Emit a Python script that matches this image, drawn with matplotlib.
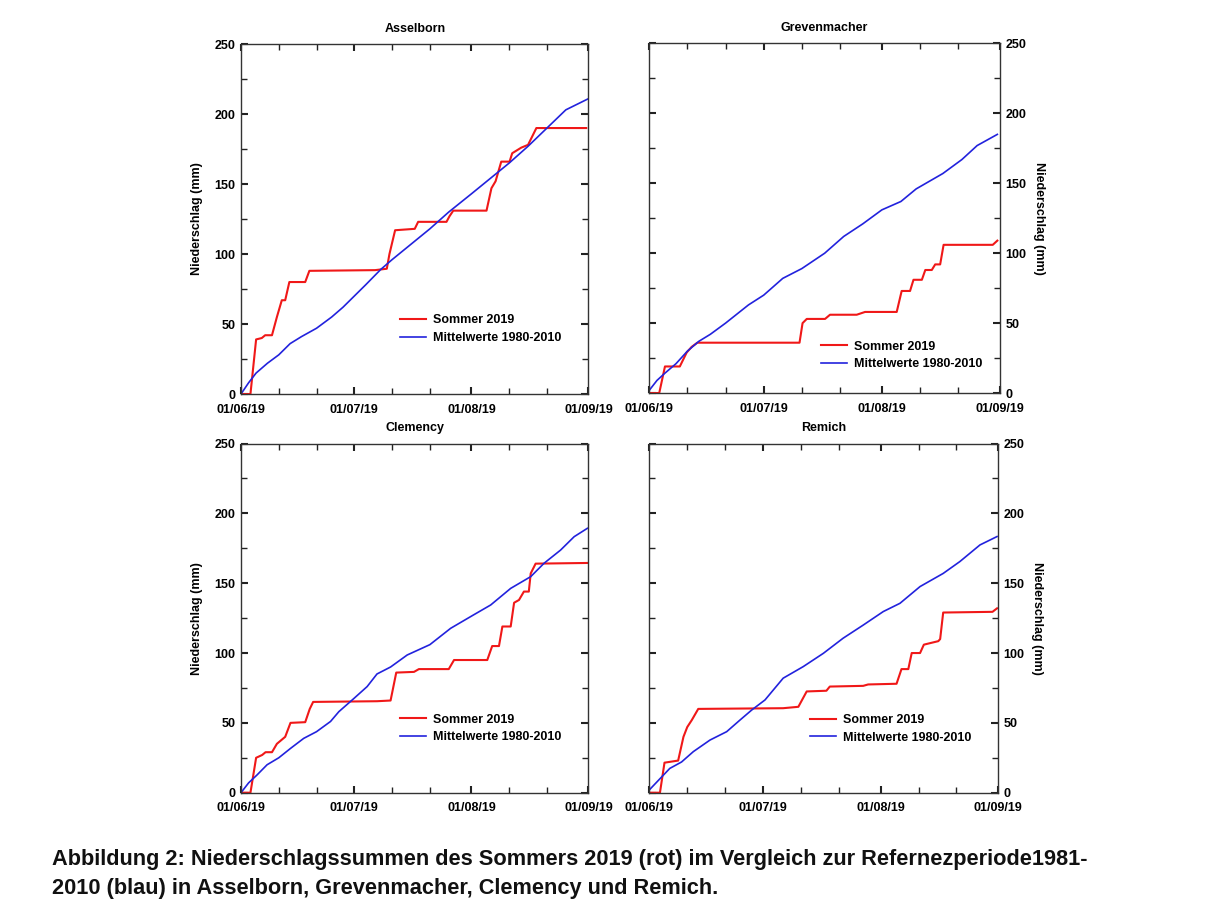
import numpy as np
import matplotlib
matplotlib.use("Agg")
import matplotlib.pyplot as plt
import matplotlib.dates as mdates
import pandas as pd

plt.rcParams['font.family'] = ['Liberation Sans', 'DejaVu Sans']
plt.rcParams['font.weight'] = 'bold'

# days since 01/06/2019 and cumulative precipitation (mm)
ass_red_days = [0, 2.5, 4.0, 5.5, 6.4, 8.2, 9.5, 10.8, 11.7, 12.8, 17.0, 18.1, 35.5, 38.6, 39.3, 40.8,
                46.0, 46.9, 54.4, 55.2, 56.2, 65.0, 66.3, 67.4, 68.9, 71.1, 71.8, 74.2, 76.0, 78.2, 91.4]
ass_red_vals = [0, 0, 39, 40, 42, 42, 55, 67, 67, 80, 80, 88, 88.5, 89.5, 100, 117,
                118, 123, 123, 127, 131, 131, 147, 152, 166, 166, 172, 176, 178, 190, 190]
ass_blue_days = [0, 2, 4, 7, 10, 13, 16, 20, 24, 27, 30, 33, 37, 40, 45, 50, 55, 61, 66, 71, 76, 81, 86, 89, 92]
ass_blue_vals = [0, 8, 15, 22, 28, 36, 41, 47, 55, 62, 70, 78, 89, 96, 107, 118, 130, 143, 154, 165, 177, 190, 203, 207, 211]

gre_red_days = [0, 2.6, 4.1, 8.0, 9.8, 11.1, 12.6, 39.4, 40.2, 41.3, 46.1, 47.4, 54.4, 56.6, 64.9, 66.2,
                68.4, 69.3, 71.5, 72.4, 74.1, 75.0, 76.3, 77.2, 90.1, 91.3]
gre_red_vals = [0, 0, 19, 19, 29, 33, 36, 36, 50, 53, 53, 56, 56, 58, 58, 73,
                73, 81, 81, 88, 88, 92, 92, 106, 106, 109]
gre_blue_days = [0, 2, 4, 7, 10, 13, 16, 20, 26, 30, 35, 40, 46, 51, 56, 61, 66, 70, 77, 82, 86, 91.3]
gre_blue_vals = [2, 9, 14, 21, 30, 37, 42, 50, 63, 70, 82, 89, 100, 112, 121, 131, 137, 146, 157, 167, 177, 185]

cle_red_days = [0, 2.5, 4.0, 5.6, 6.5, 8.2, 9.5, 11.7, 13.1, 17.0, 18.2, 19.1, 36.0, 39.6, 41.1, 45.8,
                47.1, 55.0, 56.4, 65.2, 66.5, 68.3, 69.2, 71.4, 72.3, 73.6, 74.9, 76.2, 76.7, 78.0, 92]
cle_red_vals = [0, 0, 25, 27, 29, 29, 35, 40, 50, 50.5, 60, 65, 65.5, 66, 86, 86.5,
                88.5, 88.5, 95, 95, 105, 105, 119, 119, 136, 138, 144, 144, 157, 164, 164.5]
cle_blue_days = [0, 2, 4.2, 6.9, 10, 13.1, 16.6, 20, 23.7, 25.9, 29.9, 33.4, 36, 39.6, 44, 50, 55.5,
                 61.5, 66.1, 71.4, 76.7, 80.2, 84.6, 88.2, 91.7]
cle_blue_vals = [0, 7, 12.6, 20, 25, 31.7, 38.9, 43.7, 51, 58, 67.5, 76, 85, 90, 98.6, 106, 117.7,
                 127.2, 134.4, 146.3, 154.7, 164.2, 173.7, 183.3, 189.3]

rem_red_days = [0, 2.8, 4.0, 7.6, 9.0, 10.0, 11.2, 12.9, 35.3, 39.3, 41.5, 46.7, 47.6, 56.4, 57.7, 65.2,
                66.5, 68.3, 69.2, 71.4, 72.4, 76.2, 76.7, 77.5, 90.5, 91.7]
rem_red_vals = [0, 0, 21.5, 23, 40, 47, 52, 60, 60.5, 61.5, 72.5, 73, 76, 76.5, 77.5, 78,
                88.5, 88.5, 100, 100, 106, 108.5, 110, 129, 129.5, 132]
rem_blue_days = [0, 2.8, 5.4, 8.5, 11.6, 16, 20.4, 23.9, 27, 30.5, 35.3, 40.6, 45.9, 51.1, 56.4, 61.7,
                 66.1, 71.4, 77.5, 81.9, 87.2, 91.7]
rem_blue_vals = [2, 10, 17.4, 22, 29.4, 37.7, 43.7, 52, 59.2, 66.4, 82, 90.3, 99.8, 110.6, 120, 129.7,
                 135.6, 147.6, 157, 165.5, 177.4, 183.4]

stations = ['Asselborn', 'Grevenmacher', 'Clemency', 'Remich']
labels = ['Sommer 2019', 'Mittelwerte 1980-2010']
caption = ("Abbildung 2: Niederschlagssummen des Sommers 2019 (rot) im Vergleich zur Refernezperiode1981-\n"
           "2010 (blau) in Asselborn, Grevenmacher, Clemency und Remich.")

start = pd.Timestamp('2019-06-01')
end = pd.Timestamp('2019-09-01')

def to_dates(days):
    return start + pd.to_timedelta(np.array(days), unit='D')

fig = plt.figure(figsize=(12.24, 9.10), dpi=100)

# axes boxes [left, bottom, width, height] in figure fraction
boxes = [[0.1969, 0.5670, 0.2839, 0.3846],
         [0.5305, 0.5681, 0.2865, 0.3841],
         [0.1969, 0.1289, 0.2839, 0.3837],
         [0.5305, 0.1289, 0.2850, 0.3837]]
legend_pos = [(0.458, 0.185), (0.49, 0.107), (0.458, 0.184), (0.461, 0.183)]

data = [(ass_red_days, ass_red_vals, ass_blue_days, ass_blue_vals),
        (gre_red_days, gre_red_vals, gre_blue_days, gre_blue_vals),
        (cle_red_days, cle_red_vals, cle_blue_days, cle_blue_vals),
        (rem_red_days, rem_red_vals, rem_blue_days, rem_blue_vals)]

for i in range(4):
    ax = fig.add_axes(boxes[i])
    rd, rv, bd, bv = data[i]
    ax.plot(to_dates(rd), rv, color='#f01818', lw=1.5, label=labels[0])
    ax.plot(to_dates(bd), bv, color='#2222dd', lw=1.2, label=labels[1])

    ax.set_xlim(start, end)
    ax.set_ylim(0, 250)
    ax.xaxis.set_major_locator(mdates.MonthLocator(bymonthday=1))
    ax.xaxis.set_major_formatter(mdates.DateFormatter('%d/%m/%y'))
    ax.xaxis.set_minor_locator(mdates.DayLocator(bymonthday=[11, 21]))
    ax.set_yticks(np.arange(0, 251, 50))
    ax.set_yticks(np.arange(25, 250, 50), minor=True)

    ax.tick_params(which='both', direction='in', top=True, bottom=True, left=True, right=True,
                   color='#222222')
    ax.tick_params(which='major', length=5, width=1.5, labelsize=9)
    ax.tick_params(axis='x', pad=7)
    ax.tick_params(which='minor', length=4, width=1)
    for sp in ax.spines.values():
        sp.set_linewidth(1.0)
        sp.set_color('#333333')

    ax.set_title(stations[i], fontsize=9, fontweight='bold', pad=9)
    if i % 2 == 1:
        ax.tick_params(axis='y', labelleft=False, labelright=True, pad=4)
        ax.yaxis.set_label_position('right')
        ax.set_ylabel('Niederschlag (mm)', fontsize=9, fontweight='bold', rotation=270, labelpad=13)
    else:
        ax.tick_params(axis='y', pad=4)
        ax.set_ylabel('Niederschlag (mm)', fontsize=9, fontweight='bold', labelpad=8)

    ax.legend(loc='center left', bbox_to_anchor=legend_pos[i], frameon=False,
              prop={'size': 9, 'weight': 'bold'}, handlelength=2.1, handletextpad=0.5,
              labelspacing=0.45, borderpad=0, borderaxespad=0)

fig.text(52 / 1224, 1 - 849 / 910, caption, fontsize=15.7, fontweight='bold', va='top', ha='left',
         linespacing=1.5, color='#111111')

fig.savefig('out.png', dpi=100)
